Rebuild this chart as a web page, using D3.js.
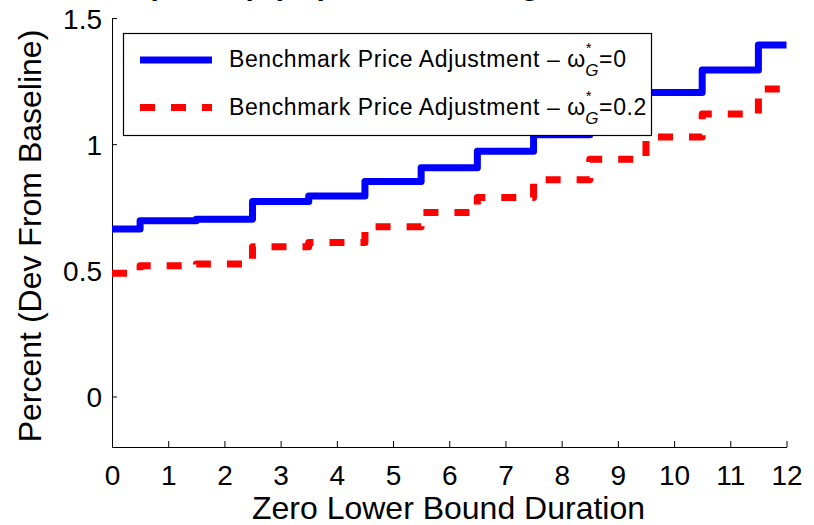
<!DOCTYPE html>
<html>
  <head>
    <meta charset="utf-8">
    <script src="https://d3js.org/d3.v7.min.js"></script>
    <style>
      body { margin: 0; background: #fff; }
      text { font-family: "Liberation Sans", Arial, sans-serif; fill: #000; }
    </style>
  </head>
<body>
  <script type="text/javascript">
    "use strict";

    // Data (value held from x-0.5 to x+0.5)
    var durations = [0, 1, 2, 3, 4, 5, 6, 7, 8, 9, 10, 11, 12];
    var benchOmega0 = [0.664, 0.697, 0.703, 0.773, 0.795, 0.852, 0.907, 0.972, 1.037, 1.12, 1.205, 1.294, 1.393];
    var benchOmega02 = [0.489, 0.518, 0.525, 0.594, 0.610, 0.673, 0.729, 0.789, 0.859, 0.940, 1.028, 1.12, 1.219];
    var xTicks = [0, 1, 2, 3, 4, 5, 6, 7, 8, 9, 10, 11, 12];
    var yTicks = [0, 0.5, 1, 1.5];
    var seriesNames = ["0", "0.2"];

    var width = 814, height = 525;

    var svg = d3.select("body")
      .append("svg")
        .attr("width", width)
        .attr("height", height);

    var x = d3.scaleLinear().domain([0, 12]).range([112, 786.5]);
    var y = d3.scaleLinear().domain([-0.2, 1.5]).range([447, 18]);

    // title, almost entirely above the top of the image (only descender tips show)
    svg.append("text")
      .attr("x", 470)
      .attr("y", -5.5)
      .style("text-anchor", "middle")
      .style("font-size", "30px")
      .style("font-weight", "bold")
      .text("Output Gap (Top Panel, Average Over ZLB Duration)");

    // Axes (MATLAB style: ticks inside, no box)
    var xAxis = d3.axisBottom(x).tickValues(xTicks).tickFormat(d3.format("d"))
      .tickSizeInner(-6).tickSizeOuter(0).tickPadding(18);
    var yAxis = d3.axisLeft(y).tickValues(yTicks).tickFormat(function (d) { return d === 0 || d === 1 ? d : d3.format(".1f")(d); })
      .tickSizeInner(-5).tickSizeOuter(0).tickPadding(10);

    var gx = svg.append("g").attr("transform", "translate(0," + y(-0.2) + ")").call(xAxis);
    var gy = svg.append("g").attr("transform", "translate(" + x(0) + ",0)").call(yAxis);

    [gx, gy].forEach(function (g) {
      g.selectAll("path, line").attr("stroke", "#000").attr("stroke-width", 1);
      g.selectAll("text")
        .style("font-size", "28px")
        .style("font-family", "'Liberation Sans', Arial, sans-serif")
        .attr("fill", "#000");
    });
    gy.selectAll("text").attr("dy", "0.36em");

    // axis titles
    svg.append("text")
      .attr("x", 448.5)
      .attr("y", 519)
      .style("text-anchor", "middle")
      .style("font-size", "32px")
      .text("Zero Lower Bound Duration");

    svg.append("text")
      .attr("transform", "translate(41,236) rotate(-90)")
      .style("text-anchor", "middle")
      .style("font-size", "32px")
      .text("Percent (Dev From Baseline)");

    // stair lines
    var line = d3.line()
      .x(function (d) { return x(d[0]); })
      .y(function (d) { return y(d[1]); })
      .curve(d3.curveStep);

    svg.append("path")
      .datum(d3.zip(durations, benchOmega02))
      .attr("d", line)
      .attr("fill", "none")
      .attr("stroke", "#ff0000")
      .attr("stroke-width", 7)
      .attr("stroke-dasharray", "15,16")
      .attr("stroke-linejoin", "round");

    svg.append("path")
      .datum(d3.zip(durations, benchOmega0))
      .attr("d", line)
      .attr("fill", "none")
      .attr("stroke", "#0000ff")
      .attr("stroke-width", 7)
      .attr("stroke-linejoin", "round");

    // Legend
    var legend = svg.append("g");
    legend.append("rect")
      .attr("x", 123.5).attr("y", 33.5)
      .attr("width", 528).attr("height", 102)
      .attr("fill", "#fff")
      .attr("stroke", "#000")
      .attr("stroke-width", 1.2);

    var legendRows = [
      { name: seriesNames[0], color: "#0000ff", dash: null, y: 60 },
      { name: seriesNames[1], color: "#ff0000", dash: "15,16", y: 107.5 }
    ];

    legendRows.forEach(function (r) {
      legend.append("line")
        .attr("x1", 140).attr("x2", 212)
        .attr("y1", r.y).attr("y2", r.y)
        .attr("stroke", r.color)
        .attr("stroke-width", 7)
        .attr("stroke-dasharray", r.dash);

      var t = legend.append("text")
        .attr("x", 229)
        .attr("y", r.y + 7)
        .style("font-size", "23px")
        .style("letter-spacing", "0.6px");
      t.append("tspan").text("Benchmark Price Adjustment \u2013 \u03c9");
      t.append("tspan").attr("dy", -14).style("font-size", "15px").text("*");
      t.append("tspan").attr("dx", -7).attr("dy", 23).style("font-size", "17px").style("font-style", "italic").text("G");
      t.append("tspan").attr("dy", -9).text("=" + r.name);
    });
  </script>
</body>
</html>
